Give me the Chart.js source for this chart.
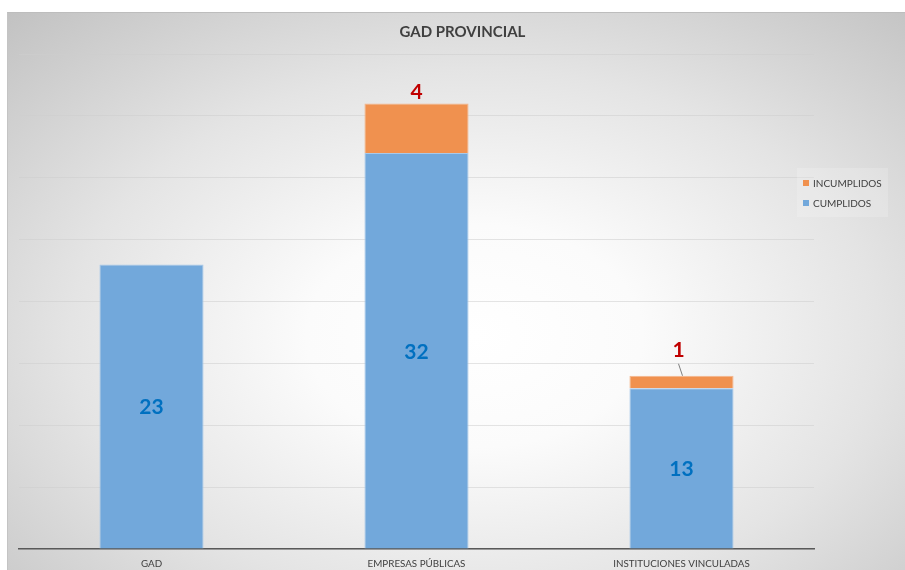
<!DOCTYPE html>
<html>
<head>
<meta charset="utf-8">
<script src="https://cdn.jsdelivr.net/npm/chart.js@4.4.1/dist/chart.umd.min.js"></script>
<style>
  html, body { margin: 0; padding: 0; background: #fff; }
  #frame {
    position: absolute; left: 7px; top: 12px; width: 898px; height: 558px;
    border-top: 1px solid #bdbdbd; border-left: 1px solid #c4c4c4; box-sizing: border-box;
    background: radial-gradient(ellipse 75% 80% at 52% 58%, #ffffff 0%, #fbfbfb 25%, #e4e4e4 60%, #c2c2c2 100%);
  }
  #chartCanvas { position: absolute; left: 0; top: 0; }
  #title {
    position: absolute; left: 12px; right: 0; top: 9px; text-align: center;
    font-family: Lato, "Open Sans", sans-serif; font-size: 15px; font-weight: bold; color: #404040;
  }
  #legend {
    position: absolute; left: 789px; top: 155px; padding: 5px 6px 4px 6px;
    background: rgba(255,255,255,0.18);
    font-family: Lato, "Open Sans", sans-serif; font-size: 10px; color: #404040;
  }
  #legend div { height: 20px; line-height: 20px; white-space: nowrap; }
  #legend span.box { display: inline-block; width: 6px; height: 6px; margin-right: 4px; vertical-align: 1px; }
</style>
</head>
<body>
<div id="frame">
  <canvas id="chartCanvas" width="897" height="557"></canvas>
  <div id="title">GAD PROVINCIAL</div>
  <div id="legend"></div>
</div>
<script>
const categories = ['GAD', 'EMPRESAS PÚBLICAS', 'INSTITUCIONES VINCULADAS'];
const cumplidos = [23, 32, 13];
const incumplidos = [0, 4, 1];
const yTicks = [0, 5, 10, 15, 20, 25, 30, 35, 40];

const blue = '#72a8db';
const orange = '#f0914f';

// data labels: blue value centered in segment, red value above small segment
const valueLabels = {
  id: 'valueLabels',
  afterDatasetsDraw(chart) {
    const ctx = chart.ctx;
    ctx.save();
    ctx.textAlign = 'center';
    ctx.textBaseline = 'middle';
    ctx.font = 'bold 21px Lato, "Open Sans", sans-serif';
    chart.getDatasetMeta(0).data.forEach((bar, i) => {
      const v = chart.data.datasets[0].data[i];
      if (!v) return;
      ctx.fillStyle = '#0070c0';
      ctx.fillText(String(v), bar.x, (bar.y + bar.base) / 2 + 1);
    });
    chart.getDatasetMeta(1).data.forEach((bar, i) => {
      const v = chart.data.datasets[1].data[i];
      if (!v) return;
      const h = bar.base - bar.y;
      ctx.fillStyle = '#c00000';
      if (h < 20) {
        ctx.fillText(String(v), bar.x - 3, bar.y - 26);
        ctx.strokeStyle = '#7f7f7f';
        ctx.lineWidth = 1;
        ctx.beginPath();
        ctx.moveTo(bar.x - 3, bar.y - 12);
        ctx.lineTo(bar.x + 1, bar.y);
        ctx.stroke();
      } else {
        ctx.fillText(String(v), bar.x, bar.y - 11);
      }
    });
    ctx.restore();
  }
};

const chart = new Chart(document.getElementById('chartCanvas').getContext('2d'), {
  type: 'bar',
  data: {
    labels: categories,
    datasets: [{
      label: 'CUMPLIDOS',
      data: cumplidos,
      backgroundColor: blue,
      borderColor: '#a8c9ea',
      borderWidth: 1,
      barPercentage: 1,
      categoryPercentage: 0.393
    }, {
      label: 'INCUMPLIDOS',
      data: incumplidos,
      backgroundColor: orange,
      borderColor: '#f5b58a',
      borderWidth: 1,
      barPercentage: 1,
      categoryPercentage: 0.393
    }]
  },
  options: {
    responsive: false,
    animation: false,
    layout: { padding: { left: 11, right: 91, top: 41, bottom: 0 } },
    plugins: {
      legend: { display: false },
      tooltip: { enabled: false },
      title: { display: false }
    },
    scales: {
      x: {
        stacked: true,
        afterFit: axis => { axis.height = 21; },
        grid: { display: false, drawTicks: false },
        border: { display: true, color: '#595959', width: 1.5 },
        ticks: {
          color: '#404040', padding: 9,
          font: { family: 'Lato, "Open Sans", sans-serif', size: 9.8 }
        }
      },
      y: {
        stacked: true,
        min: 0,
        max: 40,
        afterBuildTicks: axis => { axis.ticks = yTicks.map(v => ({ value: v })); },
        grid: { color: 'rgba(205,205,205,0.55)', drawTicks: false },
        border: { display: false },
        ticks: { display: false }
      }
    }
  },
  plugins: [valueLabels]
});

// legend in reverse order, like the reference
const legendEl = document.getElementById('legend');
chart.data.datasets.slice().reverse().forEach(ds => {
  const row = document.createElement('div');
  row.innerHTML = '<span class="box" style="background:' + ds.backgroundColor + '"></span>' + ds.label;
  legendEl.appendChild(row);
});
</script>
</body>
</html>
